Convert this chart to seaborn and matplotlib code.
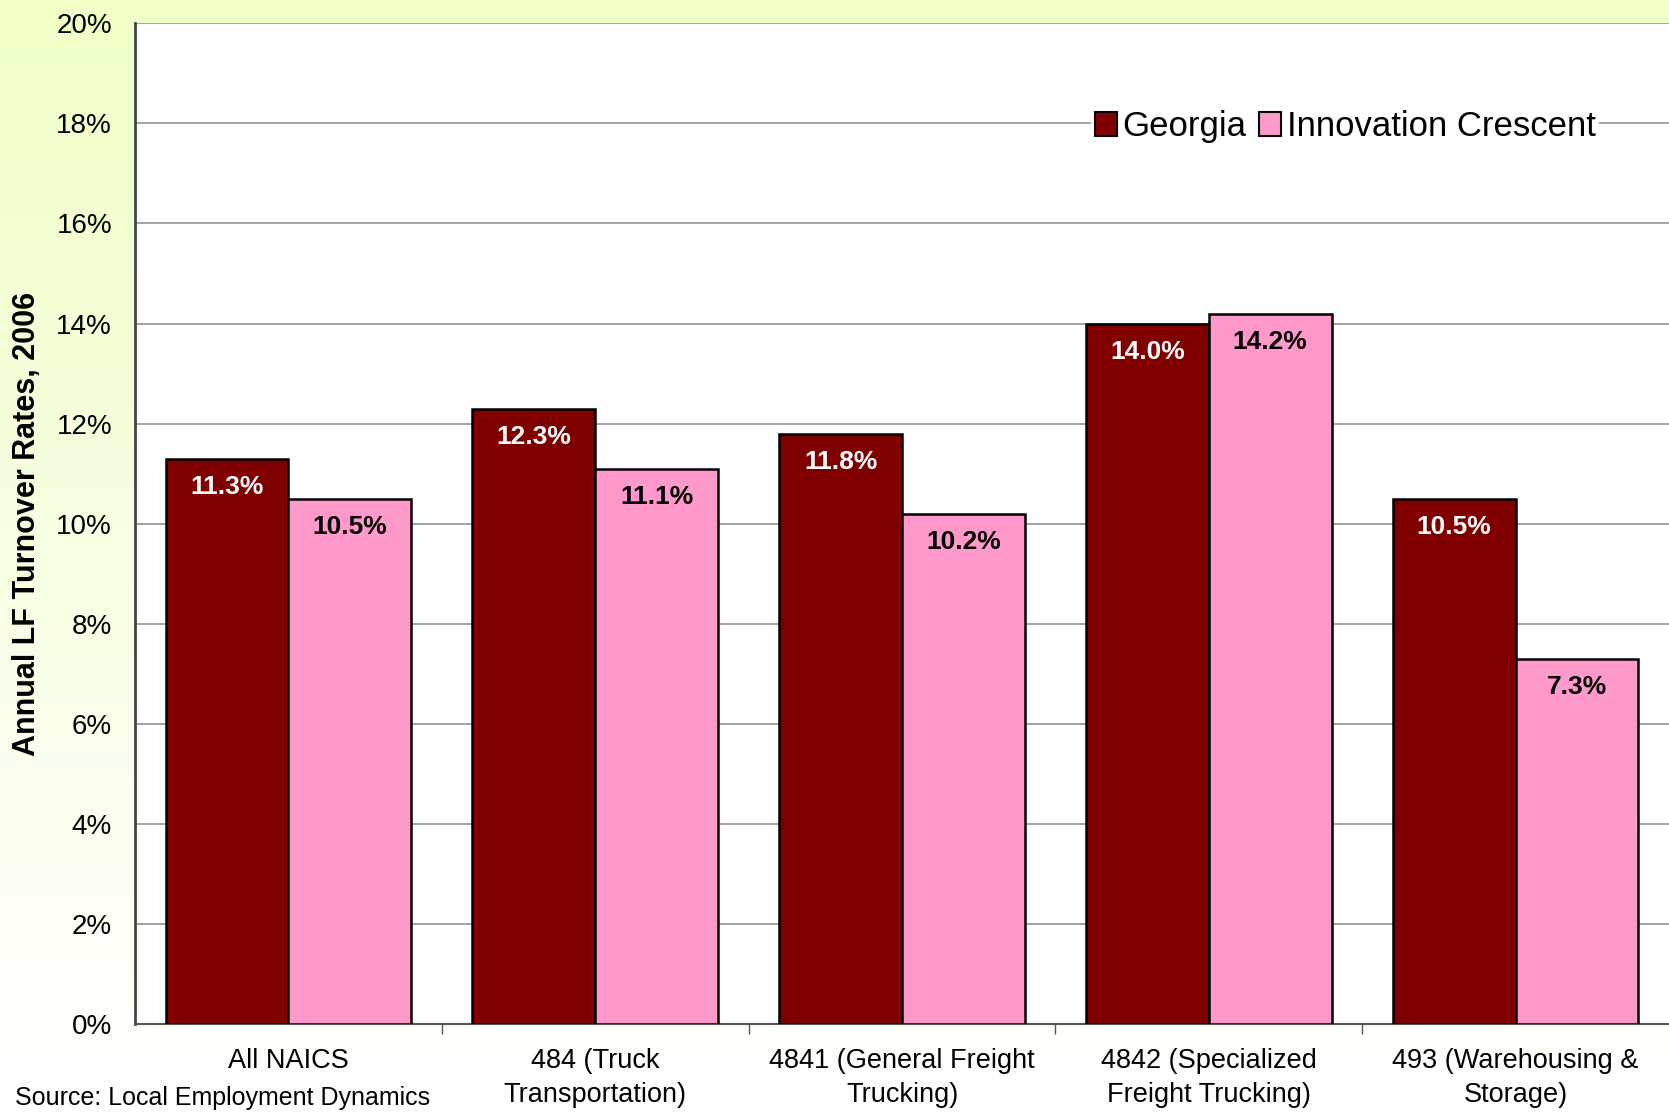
import numpy as np
import pandas as pd
import seaborn as sns
import matplotlib.pyplot as plt
from matplotlib.patches import Patch
from matplotlib.ticker import FuncFormatter, FixedLocator

# data
categories = ["All NAICS", "484 (Truck\nTransportation)", "4841 (General Freight\nTrucking)",
              "4842 (Specialized\nFreight Trucking)", "493 (Warehousing &\nStorage)"]
georgia = [11.3, 12.3, 11.8, 14.0, 10.5]
crescent = [10.5, 11.1, 10.2, 14.2, 7.3]
series = ["Georgia", "Innovation Crescent"]
colors = ["#800000", "#FF99CC"]

df = pd.DataFrame({
    "category": categories * 2,
    "rate": georgia + crescent,
    "region": [series[0]] * 5 + [series[1]] * 5,
})

sns.set_style("white")
plt.rcParams["font.family"] = ["Liberation Sans", "DejaVu Sans"]
plt.rcParams["text.color"] = "black"
plt.rcParams["xtick.color"] = "black"
plt.rcParams["ytick.color"] = "black"
plt.rcParams["axes.labelcolor"] = "black"

fig = plt.figure(figsize=(16.69, 11.13), dpi=100)

# pale green-yellow gradient behind everything
bg = fig.add_axes([0, 0, 1, 1], zorder=-10)
grad = np.linspace(0, 1, 256).reshape(-1, 1)
top = np.array([239, 255, 198]) / 255
bot = np.array([255, 255, 255]) / 255
img = top + (bot - top) * grad[:, :, None]
bg.imshow(img, aspect="auto", extent=[0, 1, 0, 1])
bg.axis("off")

ax = fig.add_axes([0.0809, 0.080, 0.9191, 0.899])
ax.set_facecolor("white")
sns.barplot(data=df, x="category", y="rate", hue="region", palette=colors,
            saturation=1, edgecolor="black", linewidth=1.8, width=0.8, ax=ax,
            legend=False, zorder=3)

ax.set_ylim(0, 20)
ax.set_xlim(-0.5, 4.5)
ax.set_yticks(np.arange(0, 21, 2))
ax.yaxis.set_major_formatter(FuncFormatter(lambda v, p: f"{v:.0f}%"))
ax.grid(axis="y", color="#8c8c8c", linewidth=1.1, zorder=0)
ax.set_axisbelow(True)

for s in ["top", "right"]:
    ax.spines[s].set_visible(False)
ax.spines["left"].set_color("#444444")
ax.spines["left"].set_linewidth(2)
ax.spines["bottom"].set_color("#555555")
ax.spines["bottom"].set_linewidth(1.5)

ax.tick_params(axis="y", length=6.5, width=1, color="#555555", pad=10, labelsize=20)
ax.tick_params(axis="x", which="major", length=0, pad=17, labelsize=19.5)
ax.xaxis.set_minor_locator(FixedLocator(np.arange(0.5, 4.5, 1)))
ax.tick_params(axis="x", which="minor", length=7, width=1, color="#555555", direction="out")
ax.tick_params(axis="x", which="minor", bottom=True)
for lab in ax.get_xticklabels():
    lab.set_linespacing(1.4)

ax.set_xlabel("")
ax.set_ylabel("Annual LF Turnover Rates, 2006", fontsize=22, fontweight="bold", labelpad=10)

# value labels inside the top of each bar
for cont, tcol in zip(ax.containers, ["white", "black"]):
    for patch in cont:
        h = patch.get_height()
        ax.annotate(f"{h:.1f}%", (patch.get_x() + patch.get_width() / 2, h),
                    xytext=(0, -20.5), textcoords="offset points", ha="center", va="center",
                    color=tcol, fontsize=19, fontweight="bold", zorder=5)

handles = [Patch(facecolor=c, edgecolor="black", linewidth=1.5) for c in colors]
leg = fig.legend(handles, series, loc="center", bbox_to_anchor=(0.806, 0.886), ncol=2,
                 fontsize=25, frameon=True, framealpha=1, edgecolor="white",
                 facecolor="white", handlelength=0.65, handleheight=0.7,
                 handletextpad=0.15, columnspacing=0.35, borderpad=0.1, borderaxespad=0)
leg.get_frame().set_linewidth(0)

fig.text(0.009, 0.003, "Source: Local Employment Dynamics", fontsize=18, va="bottom", ha="left")

fig.savefig("out.png", dpi=100)
